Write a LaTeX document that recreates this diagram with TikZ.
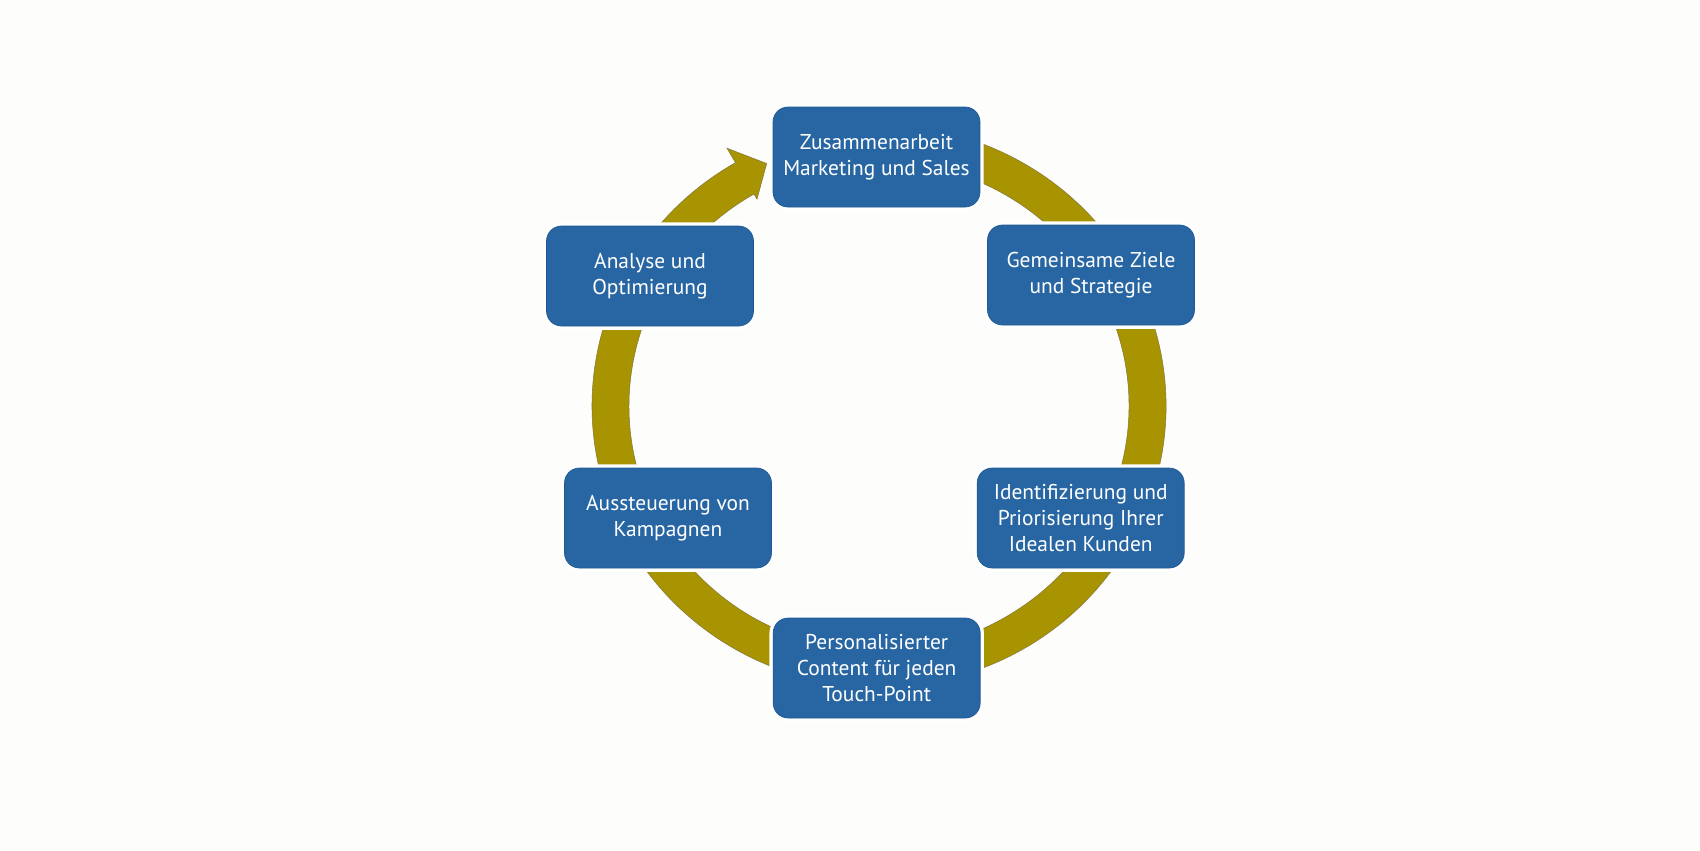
\documentclass[tikz,border=0pt]{standalone}
\usepackage{fontspec}
\setmainfont{PT Sans}
\definecolor{CYCBLUE}{HTML}{2866A3}
\definecolor{CYCEDGE}{HTML}{1E5891}
\definecolor{CYCOLIVE}{HTML}{A89300}
\definecolor{CYCRIM}{HTML}{857840}
\definecolor{CYCBG}{HTML}{FDFDFB}

\begin{document}
\begin{tikzpicture}[x=0.02cm, y=-0.02cm,
        stage/.style={draw=CYCEDGE, fill=CYCBLUE, rounded corners=0.3cm,
                      minimum width=4.14cm, minimum height=2cm, inner sep=0pt,
                      align=center, text=white, line width=0.4pt,
                      font=\fontsize{12.2}{15}\selectfont,
                      preaction={draw=white, line width=0.15cm}},
        band/.style={fill=CYCOLIVE, draw=CYCRIM, line width=0.3pt}
      ]
        \fill[CYCBG] (0,0) rectangle (1700,850);
        \useasboundingbox (0,0) rectangle (1700,850);
        \coordinate (hub) at (879,406);
        % ring band, head ends at the top box
        \begin{scope}[shift={(hub)}, yscale=-0.979]
          \draw[band] (105:287) arc[start angle=105, end angle=-240, radius=287]
                -- (-240:304) -- (-245.6:272) -- (-240:244) -- (-240:250)
                arc[start angle=-240, end angle=105, radius=250] -- cycle;
        \end{scope}
        \node[stage] (collab)   at (876.5,157) {Zusammenarbeit\\Marketing und Sales};
        \node[stage] (goals)    at (1091,275)  {Gemeinsame Ziele\\und Strategie};
        \node[stage] (ideal)    at (1080.7,518) {Identifizierung und\\Priorisierung Ihrer\\Idealen Kunden};
        \node[stage] (content)  at (876.7,668) {Personalisierter\\Content für jeden\\Touch-Point};
        \node[stage] (campaign) at (668,518)   {Aussteuerung von\\Kampagnen};
        \node[stage] (analysis) at (650,276)   {Analyse und\\Optimierung};
      \end{tikzpicture}
\end{document}
